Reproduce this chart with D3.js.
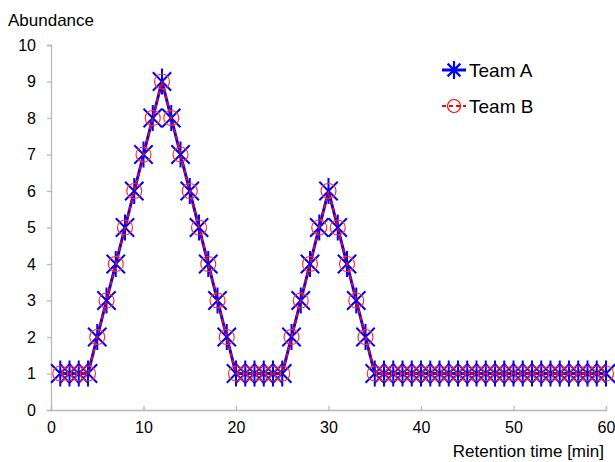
<!DOCTYPE html>
<html>
<head>
<meta charset="utf-8">
<script src="https://cdn.jsdelivr.net/npm/d3@7"></script>
<style>
  body { margin: 0; background: #fff; }
  text { font-family: "Liberation Sans", Arial, sans-serif; fill: #000; }
</style>
</head>
<body>
<div id="chart"></div>
<script>
// Data: retention time (min) and abundance for both teams
const times = d3.range(1, 61);
const teamA = [1, 1, 1, 1, 2, 3, 4, 5, 6, 7, 8, 9, 8, 7, 6, 5, 4, 3, 2, 1,
               1, 1, 1, 1, 1, 2, 3, 4, 5, 6, 5, 4, 3, 2, 1, 1, 1, 1, 1, 1,
               1, 1, 1, 1, 1, 1, 1, 1, 1, 1, 1, 1, 1, 1, 1, 1, 1, 1, 1, 1];
const teamB = [1, 1, 1, 1, 2, 3, 4, 5, 6, 7, 8, 9, 8, 7, 6, 5, 4, 3, 2, 1,
               1, 1, 1, 1, 1, 2, 3, 4, 5, 6, 5, 4, 3, 2, 1, 1, 1, 1, 1, 1,
               1, 1, 1, 1, 1, 1, 1, 1, 1, 1, 1, 1, 1, 1, 1, 1, 1, 1, 1, 1];
const xTicks = [0, 10, 20, 30, 40, 50, 60];
const yTicks = [0, 1, 2, 3, 4, 5, 6, 7, 8, 9, 10];
const seriesNames = ['Team A', 'Team B'];

const width = 615, height = 462;
const margin = { top: 45, right: 9, bottom: 52, left: 51 };

const svg = d3.select('#chart')
    .append('svg')
    .attr('width', width)
    .attr('height', height);

const xScale = d3.scaleLinear().domain([0, 60]).range([margin.left, width - margin.right]);
const yScale = d3.scaleLinear().domain([0, 10]).range([height - margin.bottom, margin.top]);

// Axes
const xAxis = svg.append('g')
    .attr('transform', `translate(0, ${yScale(0)})`)
    .call(d3.axisBottom(xScale).tickValues(xTicks).tickSize(-4).tickSizeOuter(-4).tickPadding(12));
const yAxis = svg.append('g')
    .attr('transform', `translate(${xScale(0)}, 0)`)
    .call(d3.axisLeft(yScale).tickValues(yTicks).tickSize(4).tickSizeOuter(4).tickPadding(11));

[xAxis, yAxis].forEach(ax => {
    ax.selectAll('path, line').attr('stroke', '#b8b8b8').attr('stroke-width', 1.3);
    ax.selectAll('text').attr('font-size', 16).attr('fill', '#000');
});

// Axis names
svg.append('text')
    .text('Abundance')
    .attr('x', 8).attr('y', 26)
    .attr('font-size', 17);
svg.append('text')
    .text('Retention time [min]')
    .attr('x', 604).attr('y', 457)
    .attr('text-anchor', 'end')
    .attr('font-size', 17);

const dataA = times.map((t, i) => ({ t: t, v: teamA[i] }));
const dataB = times.map((t, i) => ({ t: t, v: teamB[i] }));

const line = d3.line().x(d => xScale(d.t)).y(d => yScale(d.v));

// Asterisk marker path (with or without the horizontal bar)
const star = (s, withBar) => {
    const d = s * 0.7071;
    return (withBar ? `M${-s},0L${s},0` : '') +
        `M0,${-s}L0,${s}M${-d},${-d}L${d},${d}M${-d},${d}L${d},${-d}`;
};

// Team A: blue solid line with asterisks
svg.append('path')
    .datum(dataA)
    .attr('d', line)
    .attr('fill', 'none')
    .attr('stroke', '#0000ff')
    .attr('stroke-width', 3);

svg.selectAll('.markA')
    .data(dataA)
    .join('path')
    .attr('class', 'markA')
    .attr('transform', d => `translate(${xScale(d.t)}, ${yScale(d.v)})`)
    .attr('d', star(13, false))
    .attr('fill', 'none')
    .attr('stroke', '#0000ff')
    .attr('stroke-width', 2);

// Team B: red dashed line with open circles
svg.append('path')
    .datum(dataB)
    .attr('d', line)
    .attr('fill', 'none')
    .attr('stroke', '#ff0000')
    .attr('stroke-width', 2)
    .attr('stroke-dasharray', '4,3');

svg.selectAll('.markB')
    .data(dataB)
    .join('circle')
    .attr('class', 'markB')
    .attr('cx', d => xScale(d.t))
    .attr('cy', d => yScale(d.v))
    .attr('r', 7.5)
    .attr('fill', 'none')
    .attr('stroke', '#ff3030')
    .attr('stroke-width', 1.2);

// Legend
const legend = svg.append('g').attr('transform', 'translate(442, 70)');
seriesNames.forEach((name, i) => {
    const g = legend.append('g').attr('transform', `translate(0, ${i * 36})`);
    g.append('line')
        .attr('x1', 0).attr('x2', 24)
        .attr('stroke', i === 0 ? '#0000ff' : '#ff0000')
        .attr('stroke-width', i === 0 ? 3 : 2)
        .attr('stroke-dasharray', i === 0 ? null : '4,3');
    if (i === 0) {
        g.append('path')
            .attr('transform', 'translate(12, 0)')
            .attr('d', star(9, true))
            .attr('fill', 'none')
            .attr('stroke', '#0000ff')
            .attr('stroke-width', 2.2);
    } else {
        g.append('circle')
            .attr('cx', 12).attr('cy', 0).attr('r', 6.5)
            .attr('fill', 'none')
            .attr('stroke', '#ff0000')
            .attr('stroke-width', 1.2);
    }
    g.append('text')
        .text(name)
        .attr('x', 27).attr('y', 7)
        .attr('font-size', 19);
});
</script>
</body>
</html>
